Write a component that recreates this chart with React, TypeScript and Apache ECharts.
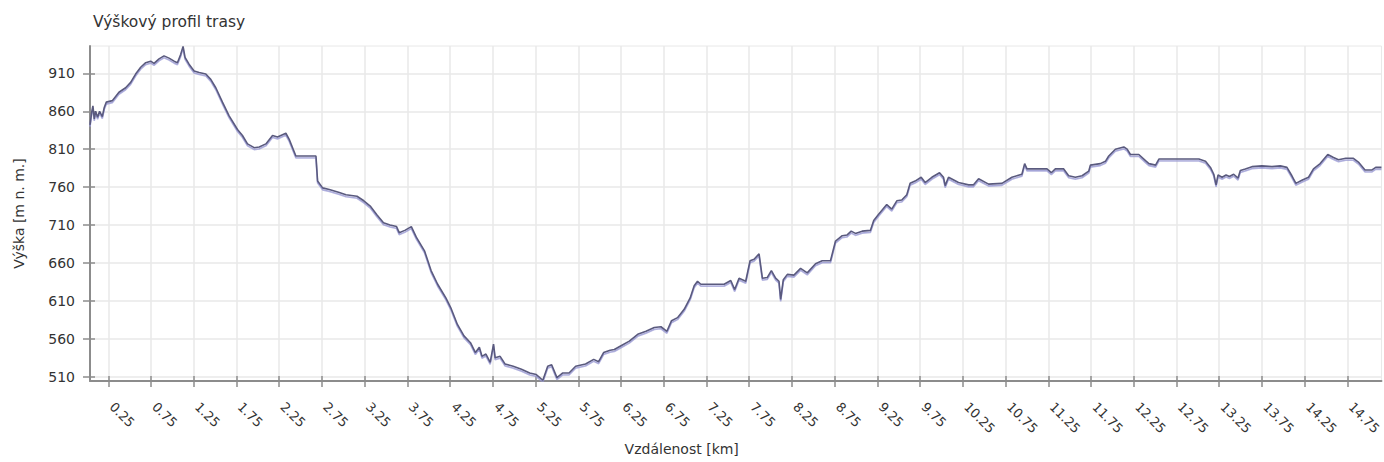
import React, { useEffect, useRef } from "react";
import * as echarts from "echarts";

const distanceKm = [
  0.036, 0.055, 0.07, 0.086, 0.102, 0.125, 0.148, 0.18, 0.203, 0.227, 0.297, 0.375, 0.453, 0.512, 0.57, 0.629,
  0.688, 0.746, 0.785, 0.844, 0.902, 0.961, 1.02, 1.059, 1.098, 1.125, 1.148, 1.195, 1.254, 1.313, 1.391, 1.449,
  1.508, 1.586, 1.664, 1.762, 1.82, 1.879, 1.957, 2.016, 2.094, 2.172, 2.23, 2.328, 2.367, 2.445, 2.68, 2.699,
  2.758, 2.836, 2.953, 3.031, 3.16, 3.24, 3.315, 3.39, 3.47, 3.546, 3.623, 3.654, 3.72, 3.796, 3.854, 3.95,
  4.027, 4.104, 4.2, 4.258, 4.335, 4.412, 4.488, 4.546, 4.592, 4.623, 4.669, 4.719, 4.758, 4.777, 4.835, 4.892,
  4.988, 5.085, 5.181, 5.258, 5.335, 5.392, 5.438, 5.5, 5.565, 5.642, 5.719, 5.835, 5.93, 5.988, 6.046, 6.123,
  6.172, 6.25, 6.347, 6.445, 6.542, 6.639, 6.717, 6.787, 6.841, 6.911, 6.989, 7.059, 7.106, 7.145, 7.184, 7.456,
  7.534, 7.58, 7.631, 7.709, 7.76, 7.807, 7.865, 7.904, 7.962, 8.009, 8.059, 8.098, 8.118, 8.149, 8.196, 8.273,
  8.351, 8.429, 8.526, 8.604, 8.701, 8.76, 8.838, 8.896, 8.943, 8.993, 9.071, 9.168, 9.207, 9.262, 9.359, 9.418,
  9.477, 9.535, 9.594, 9.633, 9.691, 9.762, 9.809, 9.887, 9.977, 10.023, 10.043, 10.082, 10.199, 10.317, 10.375, 10.434,
  10.551, 10.707, 10.824, 10.941, 10.973, 11.0, 11.098, 11.234, 11.285, 11.332, 11.43, 11.488, 11.566, 11.645, 11.723, 11.742,
  11.859, 11.918, 11.957, 12.035, 12.133, 12.172, 12.211, 12.309, 12.387, 12.427, 12.505, 12.544, 13.011, 13.089, 13.147, 13.186,
  13.213, 13.236, 13.283, 13.33, 13.369, 13.419, 13.47, 13.497, 13.555, 13.633, 13.75, 13.867, 13.964, 14.042, 14.1, 14.147,
  14.217, 14.295, 14.353, 14.431, 14.52, 14.587, 14.645, 14.731, 14.82, 14.878, 14.956, 15.034, 15.081, 15.148,
];

const elevationM = [
  842, 858, 867, 850, 860, 852, 860, 853, 865, 872, 874, 885, 891, 898, 909, 918,
  924, 926, 923, 929, 933, 930, 926, 924, 935, 945.5, 931, 922, 913, 911, 909, 902,
  891, 872, 854, 836, 828, 817, 812, 813, 817, 828, 826, 831, 823, 801, 801, 768,
  759, 757, 753, 750, 748, 742, 735, 724, 713, 710, 708, 700, 703, 708, 694, 676,
  650, 632, 614, 601, 579, 564, 555, 542, 549, 537, 540, 529, 553, 535, 537, 527,
  524, 520, 515, 513, 505.5, 524, 526, 509, 515, 515, 524, 527, 533, 530, 542, 545,
  546, 551, 557, 566, 570, 575, 576, 570, 584, 588, 599, 614, 630, 636, 632, 632,
  637, 625, 640, 636, 663, 665, 672, 640, 641, 650, 640, 636, 612, 638, 645, 644,
  653, 647, 659, 663, 663, 689, 696, 697, 702, 699, 702, 703, 716, 724, 737, 731,
  742, 743, 750, 765, 768, 773, 766, 773, 779, 773, 762, 773, 766, 763, 763, 771,
  764, 765, 773, 777, 791, 784, 784, 784, 779, 784, 784, 775, 773, 775, 781, 789,
  791, 794, 801, 810, 813, 810, 803, 803, 795, 791, 789, 797, 797, 794, 786, 777,
  763, 776, 773, 776, 774, 777, 772, 782, 784, 787, 788, 787, 788, 786, 775, 765,
  769, 773, 784, 791, 803, 799, 796, 798, 798, 793, 782.5, 782.5, 786, 786,
];

const xTicks = [
  0.25, 0.75, 1.25, 1.75, 2.25, 2.75, 3.25, 3.75, 4.25, 4.75, 5.25, 5.75, 6.25, 6.75, 7.25,
  7.75, 8.25, 8.75, 9.25, 9.75, 10.25, 10.75, 11.25, 11.75, 12.25, 12.75, 13.25, 13.75, 14.25, 14.75,
];
const yTicks = [510, 560, 610, 660, 710, 760, 810, 860, 910];

const titleText = "Výškový profil trasy";
const xName = "Vzdálenost [km]";
const yName = "Výška [m n. m.]";

const FONT = "DejaVu Sans";
const AXIS_COLOR = "#8c8c8c";
const GRID_COLOR = "#e8e8e8";

export default function App() {
  const ref = useRef<HTMLDivElement>(null);

  useEffect(() => {
    if (!ref.current) return;
    const chart = echarts.init(ref.current, undefined, { renderer: "svg" });
    const data = distanceKm.map((d, i) => [d, elevationM[i]]);
    const xMin = 0.036;
    const xMax = 15.148;
    const yMin = 504.5;
    const yMax = 946;

    chart.setOption({
      animation: false,
      backgroundColor: "#ffffff",
      title: {
        text: titleText,
        left: 88,
        top: 9,
        textStyle: { fontFamily: FONT, fontSize: 15.5, fontWeight: "normal", color: "#333" },
      },
      grid: {
        left: 90,
        right: 0,
        top: 46,
        bottom: 81,
        show: true,
        borderColor: GRID_COLOR,
        borderWidth: 1,
      },
      xAxis: [
        {
          type: "value",
          min: xMin,
          max: xMax,
          name: xName,
          nameLocation: "middle",
          nameGap: 61,
          nameTextStyle: { fontFamily: FONT, fontSize: 14, color: "#333", padding: [0, 108, 0, 0] },
          axisLine: { show: true, lineStyle: { color: AXIS_COLOR, width: 2 } },
          axisTick: { show: true, length: 6, lineStyle: { color: AXIS_COLOR, width: 1.5 }, customValues: xTicks },
          axisLabel: {
            customValues: xTicks,
            rotate: -45,
            margin: 20,
            padding: [0, 0, 0, 5],
            fontFamily: FONT,
            fontSize: 13,
            color: "#333",
            formatter: (v: number) => v.toFixed(2),
          },
          splitLine: { show: true, lineStyle: { color: GRID_COLOR, width: 1.5 } },
        },
        {
          type: "value",
          min: xMin,
          max: xMax,
          position: "bottom",
          axisLine: { show: false },
          axisTick: { show: true, inside: true, length: 5, lineStyle: { color: AXIS_COLOR, width: 1.5 }, customValues: xTicks },
          axisLabel: { show: false },
          splitLine: { show: false },
        },
      ],
      yAxis: [
        {
          type: "value",
          min: yMin,
          max: yMax,
          name: yName,
          nameLocation: "middle",
          nameGap: 64,
          nameTextStyle: { fontFamily: FONT, fontSize: 14, color: "#333" },
          axisLine: { show: true, lineStyle: { color: AXIS_COLOR, width: 2 } },
          axisTick: { show: true, length: 7, lineStyle: { color: AXIS_COLOR, width: 1.5 }, customValues: yTicks },
          axisLabel: {
            customValues: yTicks,
            margin: 15,
            fontFamily: FONT,
            fontSize: 14,
            color: "#333",
          },
          splitLine: { show: true, lineStyle: { color: GRID_COLOR, width: 1.5 } },
        },
        {
          type: "value",
          min: yMin,
          max: yMax,
          position: "left",
          axisLine: { show: false },
          axisTick: { show: true, inside: true, length: 5, lineStyle: { color: AXIS_COLOR, width: 1.5 }, customValues: yTicks },
          axisLabel: { show: false },
          splitLine: { show: false },
        },
      ],
      series: [
        {
          type: "line",
          xAxisIndex: 0,
          yAxisIndex: 0,
          data,
          showSymbol: false,
          symbol: "none",
          lineStyle: {
            color: "#5a5a7e",
            width: 1.6,
            shadowColor: "rgba(150,150,210,0.9)",
            shadowOffsetY: 1.8,
            shadowBlur: 1,
          },
        },
      ],
    });

    return () => chart.dispose();
  }, []);

  return (
    <div
      ref={ref}
      style={{ position: "absolute", left: 0, top: 0, width: 1384, height: 462 }}
    />
  );
}
